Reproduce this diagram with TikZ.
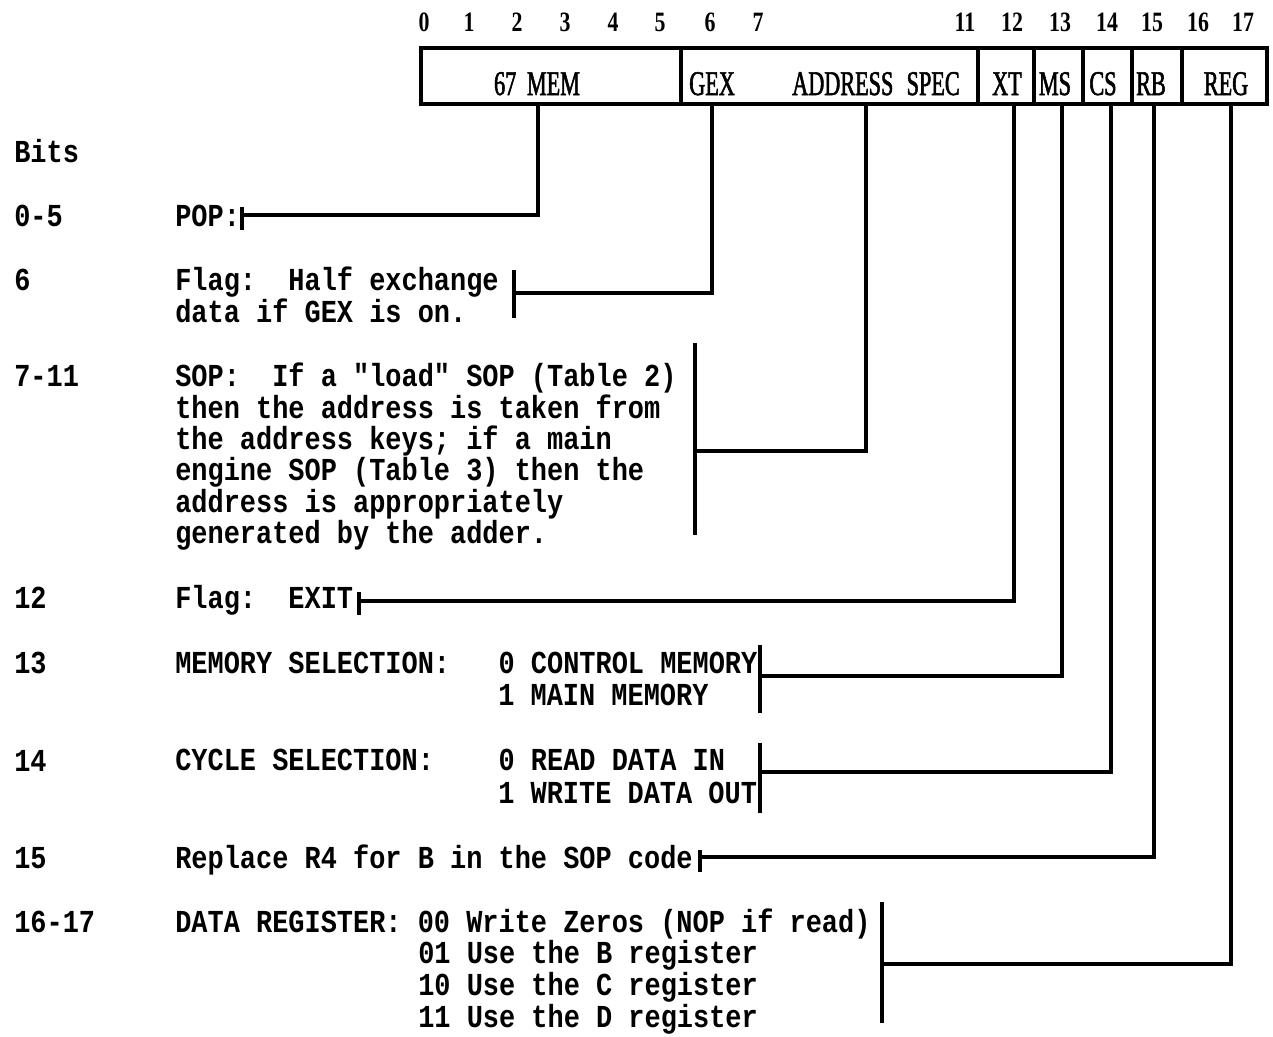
\documentclass[tikz,border=0pt]{standalone}
\usepackage{fontspec}
\newfontfamily\typefont{Liberation Mono}[BoldFont={Liberation Mono Bold}, FakeStretch=0.842]
\newfontfamily\capfont{Liberation Serif}[FakeStretch=0.64, FakeBold=1.6]
\newfontfamily\digfont{Liberation Serif}[BoldFont={Liberation Serif Bold}, FakeStretch=0.78]
\newcommand\bodyfont{\typefont\bfseries\fontsize{24}{27}\selectfont}
\newcommand\lblfont{\capfont\fontsize{26}{29}\selectfont}
\newcommand\hdrfont{\digfont\bfseries\fontsize{21}{24}\selectfont}
\tikzset{
  wire/.style={line width=2.3pt},
  cell/.style={draw, line width=2.5pt, minimum height=42pt, inner sep=0pt},
  txt/.style={inner sep=0pt, anchor=base west, font=\bodyfont},
  lbl/.style={inner sep=0pt, anchor=base, font=\lblfont},
  hdr/.style={inner sep=0pt, anchor=base, font=\hdrfont},
}
\begin{document}
\begin{tikzpicture}[x=0.75pt, y=-0.75pt]
\useasboundingbox (0,0) rectangle (1273,1036);

% bit numbers above the word
\foreach \n/\xx in {0/424,1/469,2/517,3/565,4/613,5/660,6/710,7/758,
                    11/965,12/1012,13/1060,14/1107,15/1152,16/1198,17/1243}
  \node[hdr] (bit\n) at (\xx,31) {\n};

% instruction word fields
\node[cell, minimum width=195pt]   (f-mem)  at (551,76)    {};
\node[cell, minimum width=222.75pt] (f-spec) at (829.5,76) {};
\node[cell, minimum width=42pt]    (f-xt)   at (1006,76)   {};
\node[cell, minimum width=36.75pt] (f-ms)   at (1058.5,76) {};
\node[cell, minimum width=36.75pt] (f-cs)   at (1107.5,76) {};
\node[cell, minimum width=37.5pt]  (f-rb)   at (1157,76)   {};
\node[cell, minimum width=63.75pt] (f-reg)  at (1224.5,76) {};

\node[lbl] (l-mem)  at (537,95)  {67\hspace{8pt}MEM};
\node[lbl, anchor=base west] (l-gex) at (689,95) {GEX};
\node[lbl, anchor=base east] (l-spec) at (960,95) {ADDRESS\hspace{10pt}SPEC};
\node[lbl] (l-xt)  at (1007,95) {XT};
\node[lbl] (l-ms)  at (1055,95) {MS};
\node[lbl] (l-cs)  at (1103,95) {CS};
\node[lbl] (l-rb)  at (1151,95) {RB};
\node[lbl] (l-reg) at (1226,95) {REG};

% tap points on the lower edge of the word
\coordinate (c-mem)  at (538,104);
\coordinate (c-gex)  at (712,104);
\coordinate (c-spec) at (866,104);
\coordinate (c-xt)   at (1014,104);
\coordinate (c-ms)   at (1062,104);
\coordinate (c-cs)   at (1111,104);
\coordinate (c-rb)   at (1154,104);
\coordinate (c-reg)  at (1231,104);

% bit ranges
\node[txt] (r-head) at (14,162) {Bits};
\node[txt] (r-0)  at (14,226) {0-5};
\node[txt] (r-6)  at (14,290) {6};
\node[txt] (r-7)  at (14,386) {7-11};
\node[txt] (r-12) at (14,608) {12};
\node[txt] (r-13) at (14,673) {13};
\node[txt] (r-14) at (14,771) {14};
\node[txt] (r-15) at (14,868) {15};
\node[txt] (r-16) at (14,932) {16-17};

% descriptions
\node[txt] (d-pop) at (175,226) {POP:};
\node[txt] (d-flag1) at (175,290) {Flag:~~Half exchange};
\node[txt] (d-flag2) at (175,322) {data if GEX is on.};
\node[txt] (d-sop1) at (175,386) {SOP:~~If a "load" SOP (Table 2)};
\node[txt] (d-sop2) at (175,418) {then the address is taken from};
\node[txt] (d-sop3) at (175,449) {the address keys; if a main};
\node[txt] (d-sop4) at (175,480) {engine SOP (Table 3) then the};
\node[txt] (d-sop5) at (175,512) {address is appropriately};
\node[txt] (d-sop6) at (175,543) {generated by the adder.};
\node[txt] (d-exit) at (175,608) {Flag:~~EXIT};
\node[txt] (d-ms1) at (175,673) {MEMORY SELECTION:~~~0 CONTROL MEMORY};
\node[txt] (d-ms2) at (498,705) {1 MAIN MEMORY};
\node[txt] (d-cs1) at (175,770) {CYCLE SELECTION:~~~~0 READ DATA IN};
\node[txt] (d-cs2) at (498,803) {1 WRITE DATA OUT};
\node[txt] (d-rb) at (175,868) {Replace R4 for B in the SOP code};
\node[txt] (d-reg1) at (175,932) {DATA REGISTER: 00 Write Zeros (NOP if read)};
\node[txt] (d-reg2) at (418,963) {01 Use the B register};
\node[txt] (d-reg3) at (418,995) {10 Use the C register};
\node[txt] (d-reg4) at (418,1027) {11 Use the D register};

% brackets: top end, bottom end, tap
\coordinate (b-pop-t)  at (242,207);  \coordinate (b-pop-b)  at (242,230);  \coordinate (b-pop)  at (242,215);
\coordinate (b-flag-t) at (514,270);  \coordinate (b-flag-b) at (514,318);  \coordinate (b-flag) at (514,293);
\coordinate (b-sop-t)  at (695,343);  \coordinate (b-sop-b)  at (695,535);  \coordinate (b-sop)  at (695,451);
\coordinate (b-xt-t)   at (359,592);  \coordinate (b-xt-b)   at (359,615);  \coordinate (b-xt)   at (359,601);
\coordinate (b-ms-t)   at (760,645);  \coordinate (b-ms-b)   at (760,713);  \coordinate (b-ms)   at (760,676);
\coordinate (b-cs-t)   at (760,743);  \coordinate (b-cs-b)   at (760,813);  \coordinate (b-cs)   at (760,772);
\coordinate (b-rb-t)   at (700,850);  \coordinate (b-rb-b)   at (700,872);  \coordinate (b-rb)   at (700,857);
\coordinate (b-reg-t)  at (882,902);  \coordinate (b-reg-b)  at (882,1023); \coordinate (b-reg)  at (882,964);

\foreach \b in {pop,flag,sop,xt,ms,cs,rb,reg}
  \draw[wire] (b-\b-t) -- (b-\b-b);

\draw[wire] (b-pop)  -| (c-mem);
\draw[wire] (b-flag) -| (c-gex);
\draw[wire] (b-sop)  -| (c-spec);
\draw[wire] (b-xt)   -| (c-xt);
\draw[wire] (b-ms)   -| (c-ms);
\draw[wire] (b-cs)   -| (c-cs);
\draw[wire] (b-rb)   -| (c-rb);
\draw[wire] (b-reg)  -| (c-reg);
\end{tikzpicture}
\end{document}
